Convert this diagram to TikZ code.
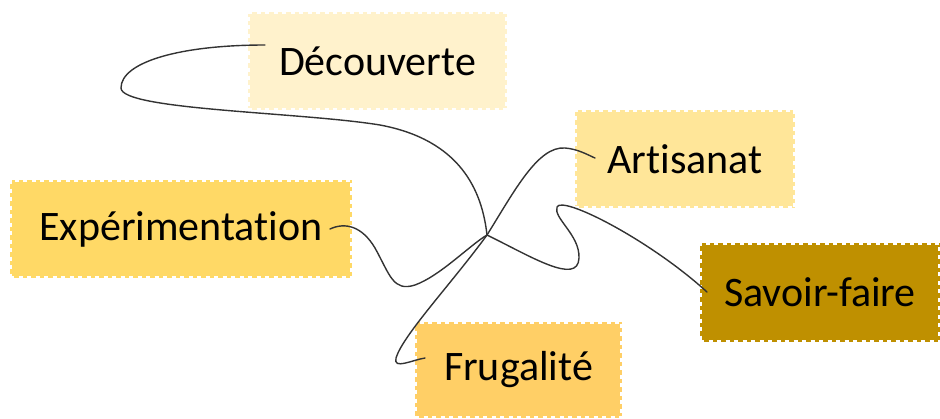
\documentclass[tikz,border=0pt]{standalone}
\usepackage{fontspec}
\setmainfont[Ligatures=CommonOff]{Carlito}
\definecolor{cream}{HTML}{FFF2CC}
\definecolor{paleyellow}{HTML}{FFE699}
\definecolor{midyellow}{HTML}{FFD966}
\definecolor{warmyellow}{HTML}{FFCF66}
\definecolor{darkgold}{HTML}{BF9000}
\definecolor{wire}{HTML}{333333}
\begin{document}
\begin{tikzpicture}[x=1pt,y=-1pt]
        \tikzset{
          stamp/.style={draw=white,line width=3.5pt,dash pattern=on 4pt off 4.5pt,
            inner sep=0pt,font=\fontsize{42}{50}\selectfont},
          wire/.style={draw=wire,line width=1.4pt,line cap=round}
        }
        \useasboundingbox (0,0) rectangle (940,418);
        %BOXES
        \node[stamp,fill=cream,minimum width=259pt,minimum height=98pt] (decouverte) at (377.5,61) {Découverte};
        \node[stamp,fill=paleyellow,minimum width=220pt,minimum height=98pt] (artisanat) at (685,159) {Artisanat};
        \node[stamp,fill=midyellow,minimum width=342pt,minimum height=98pt] (experimentation) at (181,229) {Expérimentation};
        \node[stamp,fill=darkgold,minimum width=240pt,minimum height=99pt] (savoirfaire) at (820,292.5) {Savoir-faire};
        \node[stamp,fill=warmyellow,minimum width=207pt,minimum height=96pt] (frugalite) at (518.5,370) {Frugalité};
        %HUB
        \coordinate (hub) at (487,235);
        \coordinate (decouverte end) at (265,45);
        \coordinate (artisanat end) at (595,158);
        \coordinate (experimentation end) at (330,229);
        \coordinate (savoirfaire end) at (707,292);
        \coordinate (frugalite end) at (425,358);
        %WIRES
        \draw[wire] (decouverte end) .. controls (180,45) and (121,62) .. (121,88)
          .. controls (121,110) and (300,112) .. (380,125)
          .. controls (460,140) and (482,190) .. (hub);
        \draw[wire] (hub) .. controls (515,190) and (538,146) .. (565,148)
          .. controls (578,149) and (588,155) .. (artisanat end);
        \draw[wire] (experimentation end) .. controls (345,222) and (362,226) .. (375,248)
          .. controls (390,275) and (393,292) .. (415,285)
          .. controls (440,276) and (470,245) .. (hub);
        \draw[wire] (hub) .. controls (530,256) and (578,286) .. (579,258)
          .. controls (580,235) and (553,218) .. (557,207)
          .. controls (562,195) and (650,240) .. (savoirfaire end);
        \draw[wire] (hub) .. controls (452,283) and (403,335) .. (396,358)
          .. controls (393,370) and (412,360) .. (frugalite end);
\end{tikzpicture}
\end{document}
